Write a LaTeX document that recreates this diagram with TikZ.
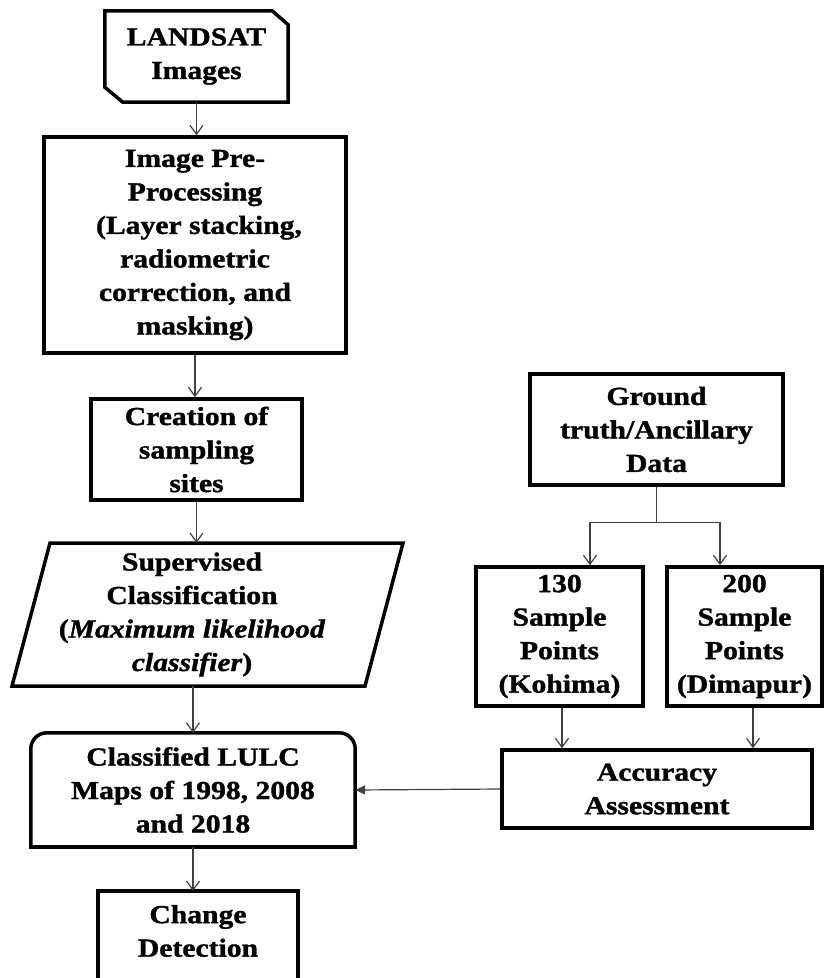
\documentclass[tikz,border=0pt]{standalone}
\usepackage{fontspec}
\setmainfont{Liberation Serif}[FakeStretch=1.14, BoldFeatures={FakeBold=1.3}, BoldItalicFeatures={FakeBold=1.3}]
\usetikzlibrary{arrows.meta,calc}
\tikzset{
  boxline/.style={line width=3.5pt, line join=miter, line cap=rect},
  box/.style={draw, boxline, align=center, inner sep=0pt},
  txt/.style={align=center, inner sep=0pt},
  arr/.style={line width=1.2pt, draw=black!75, -{Straight Barb[length=9pt,width=13pt]}},
  farr/.style={line width=1.2pt, draw=black!75, -{Triangle[length=10pt,width=9pt]}},
  plain/.style={line width=1.2pt, draw=black!75}
}
\begin{document}
\begin{tikzpicture}[x=1pt,y=-1pt,font=\fontsize{26}{33.5}\selectfont\bfseries]
\useasboundingbox (0,0) rectangle (840,978);
\clip (0,0) rectangle (840,978);
\fill[white] (0,0) rectangle (840,978);

% LANDSAT (chamfered)
\node[txt, minimum width=183pt, minimum height=91pt] (ls) at (196.5,56.5) {LANDSAT\\Images};
\draw[boxline] (ls.north west) -- ([xshift=-16pt]ls.north east) -- ([yshift=-14pt]ls.north east)
  -- (ls.south east) -- ([xshift=18pt]ls.south west) -- ([yshift=15pt]ls.south west) -- cycle;

% Pre-processing
\node[box, minimum width=302pt, minimum height=216pt] (pre) at (195,245)
  {Image Pre-\\Processing\\\hspace*{8pt}(Layer stacking,\\radiometric\\correction, and\\masking)};

% Creation
\node[box, minimum width=211pt, minimum height=101pt] (cre) at (196.5,449.5)
  {Creation of\\sampling\\sites};

% Supervised (parallelogram)
\node[txt] (sup) at (192,614.5)
  {Supervised\\Classification\\(\textit{Maximum likelihood}\\\textit{classifier})};
\draw[boxline] ($(sup.center)+(-142,-71.5)$) -- ($(sup.center)+(211,-71.5)$)
  -- ($(sup.center)+(173,71.5)$) -- ($(sup.center)+(-180,71.5)$) -- cycle;
\coordinate (supN) at ($(sup.center)+(0,-71.5)$);
\coordinate (supS) at ($(sup.center)+(0,71.5)$);

% Classified (rounded top corners)
\node[txt, minimum width=324pt, minimum height=114pt] (cls) at (193,790)
  {Classified LULC\\Maps of 1998, 2008\\and 2018};
\draw[boxline, rounded corners=16pt] (cls.south west) -- (cls.north west) -- (cls.north east) -- (cls.south east);
\draw[boxline] (cls.south west) -- (cls.south east);

% Change detection (cut by the page edge)
\node[txt] (chg) at (198,931) {Change\\Detection};
\coordinate (chgN) at ([yshift=40pt]chg.center);
\draw[boxline] ([xshift=-100pt,yshift=40pt]chg.center) rectangle ([xshift=100pt,yshift=-100pt]chg.center);

% Right column
\node[box, minimum width=253pt, minimum height=111pt] (gt) at (656.5,429.5)
  {Ground\\truth/Ancillary\\Data};
\node[box, minimum width=167pt, minimum height=139pt] (s130) at (559.5,636.5)
  {130\\Sample\\Points\\(Kohima)};
\node[box, minimum width=155pt, minimum height=139pt] (s200) at (744.5,636.5)
  {200\\Sample\\Points\\(Dimapur)};
\node[box, minimum width=310pt, minimum height=78pt] (acc) at (657,789)
  {Accuracy\\Assessment};

% Connectors
\draw[arr] (ls.south) -- (ls.south |- pre.north);
\draw[arr] (pre.south) -- (pre.south |- cre.north);
\draw[arr] (cre.south) -- (cre.south |- supN);
\draw[arr] (cls.north |- supS) -- (cls.north);
\draw[arr] (cls.south) -- (cls.south |- chgN);

\coordinate (split) at ([yshift=-36pt]gt.south);
\draw[plain] (gt.south) -- (split);
\draw[arr] (split) -| ([xshift=30.5pt]s130.north);
\draw[arr] (split) -| ([xshift=-24.5pt]s200.north);
\draw[arr] ([xshift=2.5pt]s130.south) -- ([xshift=2.5pt]s130.south |- acc.north);
\draw[arr] ([xshift=8.5pt]s200.south) -- ([xshift=8.5pt]s200.south |- acc.north);
\draw[farr] (acc.west) -- (cls.east);
\end{tikzpicture}
\end{document}
